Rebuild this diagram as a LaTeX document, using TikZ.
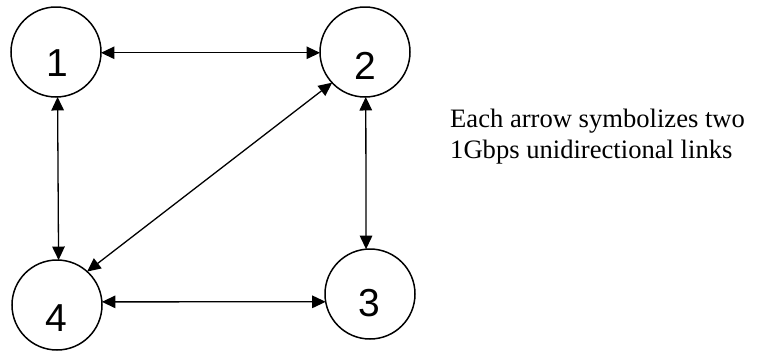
\documentclass[tikz,border=0pt]{standalone}
\usepackage{fontspec}
\setmainfont{Liberation Serif}
\newfontfamily\digitfont{Liberation Sans}
\usetikzlibrary{arrows.meta}
\begin{document}
\begin{tikzpicture}[x=1pt,y=-1pt,
  vertex/.style={circle,draw,line width=1.5pt,minimum size=90pt,inner sep=0pt,outer sep=0pt},
  digit/.style={font=\digitfont\fontsize{39}{39}\selectfont,inner sep=0pt},
  link/.style={line width=1.3pt,{Triangle[length=13.5pt,width=12.5pt]}-{Triangle[length=13.5pt,width=12.5pt]}},
  note/.style={font=\fontsize{26.6}{31}\selectfont,inner sep=0pt,anchor=base west}]
\useasboundingbox (0,0) rectangle (760,351);
\node[vertex] (n1) at (56,52) {};
\node[vertex] (n2) at (365,52) {};
\node[vertex] (n3) at (370,294) {};
\node[vertex] (n4) at (57,305) {};
\node[digit] (d1) at (57,63) {1};
\node[digit] (d2) at (365,66) {2};
\node[digit] (d3) at (369,303) {3};
\node[digit] (d4) at (56,318) {4};
\draw[link] (n1.-1) -- (n2.181);
\draw[link] (n1.-88) -- (n4.88);
\draw[link] (n2.-89) -- (n3.95);
\draw[link] (n2.223) -- (n4.48);
\draw[link] (n4.4) -- (n3.190);
\node[note] (t1) at (450,127) {Each arrow symbolizes two};
\node[note] (t2) at (450,158) {1Gbps unidirectional links};
\end{tikzpicture}
\end{document}
